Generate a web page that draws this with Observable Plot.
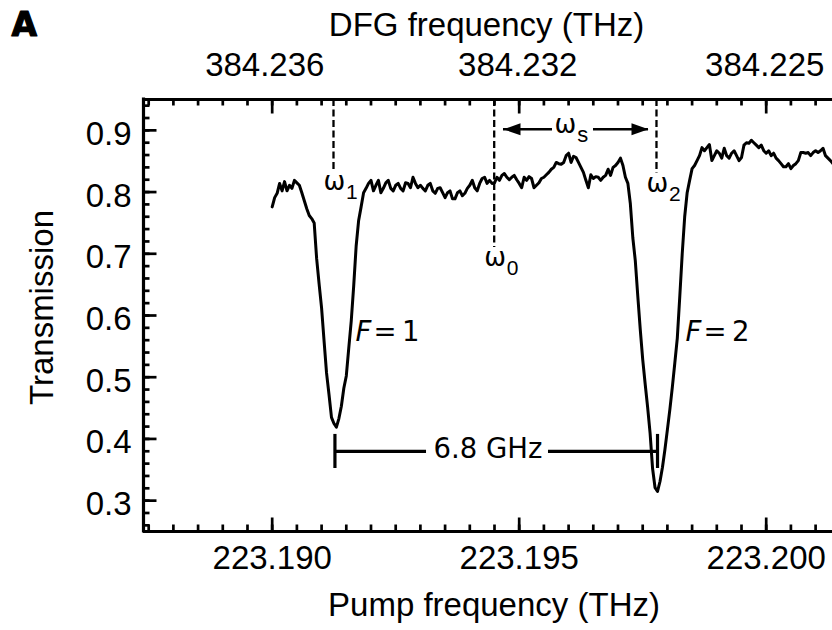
<!DOCTYPE html>
<html><head><meta charset="utf-8">
<script src="https://cdn.jsdelivr.net/npm/d3@7"></script>
<script src="https://cdn.jsdelivr.net/npm/@observablehq/plot@0.6"></script>
<style>body{margin:0;background:#fff}</style>
</head><body><div id="chart"></div>
<script>
// ---- data ----
const pumpStart = 223.19;   // THz, first sample
const pumpStep = 0.00005;   // THz between samples
const transmission = [
0.776,0.791,0.798,0.814,0.802,0.817,0.802,0.811,0.806,0.819,
0.815,0.811,0.799,0.786,0.773,0.762,0.757,0.750,0.692,0.651,
0.612,0.559,0.507,0.472,0.435,0.425,0.419,0.433,0.453,0.482,
0.502,0.547,0.591,0.648,0.713,0.754,0.776,0.799,0.806,0.814,
0.819,0.802,0.811,0.819,0.799,0.806,0.815,0.819,0.806,0.802,
0.811,0.814,0.806,0.802,0.815,0.814,0.807,0.824,0.814,0.807,
0.811,0.806,0.802,0.811,0.814,0.802,0.798,0.806,0.807,0.799,
0.791,0.799,0.802,0.789,0.789,0.799,0.802,0.794,0.798,0.806,
0.811,0.819,0.807,0.802,0.814,0.822,0.824,0.814,0.819,0.814,
0.815,0.824,0.819,0.827,0.830,0.824,0.820,0.824,0.827,0.820,
0.814,0.807,0.824,0.819,0.825,0.822,0.807,0.811,0.815,0.822,
0.824,0.828,0.832,0.837,0.840,0.848,0.846,0.845,0.848,0.859,
0.863,0.848,0.858,0.856,0.848,0.840,0.832,0.819,0.807,0.828,
0.822,0.825,0.824,0.819,0.824,0.827,0.837,0.827,0.840,0.843,
0.848,0.855,0.843,0.824,0.814,0.781,0.726,0.689,0.632,0.578,
0.529,0.489,0.451,0.409,0.352,0.321,0.315,0.331,0.354,0.383,
0.415,0.448,0.484,0.523,0.563,0.630,0.700,0.760,0.799,0.819,
0.838,0.843,0.851,0.859,0.872,0.867,0.872,0.877,0.851,0.859,
0.867,0.863,0.855,0.871,0.859,0.855,0.863,0.867,0.859,0.851,
0.856,0.876,0.880,0.879,0.884,0.880,0.876,0.872,0.876,0.867,
0.863,0.867,0.859,0.863,0.855,0.851,0.846,0.841,0.841,0.846,
0.838,0.843,0.846,0.851,0.864,0.864,0.863,0.864,0.859,0.864,
0.867,0.864,0.867,0.871,0.859,0.855,0.851,0.846
];
const pumpTicks = [223.190, 223.195, 223.200];
const pumpTickLabels = ["223.190", "223.195", "223.200"];
const dfgTickLabels = ["384.236", "384.232", "384.225"];
const dfgLabelPump = [223.18985, 223.19497, 223.19997];  // where the DFG labels sit on the pump scale
const transTicks = [0.3, 0.4, 0.5, 0.6, 0.7, 0.8, 0.9];
const xDomain = [223.187395, 223.201342];
const yDomain = [0.25, 0.95];

// annotations (data units)
const markerNames = ["1", "0", "2"];
const markerPump = [223.191241, 223.194494, 223.197779];
const markerBottom = [0.832, 0.710, 0.830];
const wsSegX1 = [223.194682, 223.196504];
const wsSegX2 = [223.195674, 223.197617];
const wsY = 0.9017;
const wsLabelX = 223.196137;
const barY = 0.3797;
const barSegX1 = [223.19127, 223.195593];
const barSegX2 = [223.193124, 223.19780];
const barCapX = [223.19127, 223.19780];
const barCapY = [0.3521, 0.4073];
const barLabelX = 223.194369;
const barLabelY = 0.3683;
const fLabelX = [223.191686, 223.198366];
const fLabelText = ["=\u20091", "=\u20092"];
const fLabelY = 0.559;

// ---- build ----
const data = transmission.map((t, i) => ({pump: pumpStart + i * pumpStep, t}));
const markers = markerNames.map((n, i) => ({name: n, pump: markerPump[i], bottom: markerBottom[i]}));
const wsSegs = wsSegX1.map((x1, i) => ({x1, x2: wsSegX2[i]}));
const barSegs = barSegX1.map((x1, i) => ({x1, x2: barSegX2[i]}));
const fLabels = fLabelX.map((x, i) => ({x, text: fLabelText[i]}));
const dfgLabels = dfgTickLabels.map((text, i) => ({text, pump: dfgLabelPump[i]}));

const xMinor = d3.range(0, 28).map(k => 223.1875 + k * 0.0005).filter(v => v > xDomain[0] && v < xDomain[1]);
const yMinor = d3.range(0, 35).map(k => 0.26 + k * 0.02).filter(v => v < 0.95);

const tickShape = {draw(ctx, l) { ctx.moveTo(0, 0); ctx.lineTo(0, -l); }};
const headShape = {draw(ctx) { ctx.moveTo(0, 0); ctx.lineTo(-17, -6); ctx.lineTo(-17, 6); ctx.closePath(); }};
const SANS = "Liberation Sans, Arial, Helvetica, sans-serif";
const VERD = "DejaVu Sans, Verdana, sans-serif";
const FS = 33;
const tk = {shape: tickShape, anchor: "start", strokeWidth: 2.7, strokeLinecap: "butt"};

const chart = Plot.plot({
  width: 832, height: 630,
  marginLeft: 143, marginRight: 0, marginTop: 99, marginBottom: 99,
  style: {fontFamily: SANS, fontSize: FS + "px", background: "white", color: "black"},
  x: {domain: xDomain, axis: null},
  y: {domain: yDomain, axis: null},
  marks: [
    // ticks (inside the frame)
    Plot.vector(xMinor, {...tk, x: d => d, y: () => yDomain[0], length: 7, rotate: 0}),
    Plot.vector(pumpTicks, {...tk, x: d => d, y: () => yDomain[0], length: 14, rotate: 0}),
    Plot.vector(xMinor, {...tk, x: d => d, y: () => yDomain[1], length: 6, rotate: 180}),
    Plot.vector(pumpTicks, {...tk, x: d => d, y: () => yDomain[1], length: 14, rotate: 180}),
    Plot.vector(yMinor, {...tk, y: d => d, x: () => xDomain[0], length: 6, rotate: 90}),
    Plot.vector(transTicks, {...tk, y: d => d, x: () => xDomain[0], length: 13, rotate: 90}),
    // frame (left, top, bottom)
    Plot.ruleX([xDomain[0]], {strokeWidth: 3.2, strokeLinecap: "square"}),
    Plot.ruleY(yDomain, {strokeWidth: 3.2}),
    // axes labels
    Plot.axisY({ticks: transTicks, tickSize: 0, tickPadding: 12, tickFormat: d3.format(".1f"), fontSize: FS, dy: 4, label: null}),
    Plot.axisX({anchor: "bottom", ticks: pumpTicks, tickSize: 0, tickPadding: 14.5, tickFormat: d => pumpTickLabels[pumpTicks.indexOf(d)], fontSize: FS, label: null}),
    Plot.text(dfgLabels, {x: "pump", text: "text", frameAnchor: "top", dy: -24, textAnchor: "middle", lineAnchor: "bottom", fontSize: FS}),
    // titles
    Plot.text(["Pump frequency (THz)"], {frameAnchor: "bottom", dx: 6, dy: 84, textAnchor: "middle", lineAnchor: "bottom", fontSize: FS}),
    Plot.text(["DFG frequency (THz)"], {frameAnchor: "top", dx: -1.5, dy: -64, textAnchor: "middle", lineAnchor: "bottom", fontSize: FS}),
    Plot.text(["Transmission"], {frameAnchor: "left", rotate: -90, dx: -91, dy: -8, textAnchor: "middle", lineAnchor: "bottom", fontSize: FS}),
    Plot.text(["A"], {frameAnchor: "top-left", dx: -132, dy: -64, textAnchor: "start", lineAnchor: "bottom", fontFamily: VERD, fontSize: 33, fontWeight: "bold", fill: "black", stroke: "black", strokeWidth: 1.2}),
    // dashed markers
    Plot.ruleX(markers, {x: "pump", y1: () => yDomain[1], y2: "bottom", strokeWidth: 2.3, strokeDasharray: "7,3.5"}),
    Plot.text(markers, {x: "pump", y: "bottom", text: () => "ω", dx: 1, dy: 18, textAnchor: "middle", lineAnchor: "bottom", fontFamily: VERD, fontSize: 26}),
    Plot.text(markers, {x: "pump", y: "bottom", text: "name", dx: 12.5, dy: 27, textAnchor: "start", lineAnchor: "bottom", fontSize: 21}),
    // omega_s arrow
    Plot.ruleY(wsSegs, {y: () => wsY, x1: "x1", x2: "x2", strokeWidth: 2.5}),
    Plot.dot([wsSegX1[0], wsSegX2[1]], {x: d => d, y: () => wsY, symbol: headShape, r: 5, fill: "black", stroke: "none", rotate: (d, i) => i === 0 ? 180 : 0}),
    Plot.text([wsLabelX], {x: d => d, y: () => wsY, text: () => "ω", dx: -10, dy: 4, textAnchor: "middle", lineAnchor: "bottom", fontFamily: VERD, fontSize: 26}),
    Plot.text([wsLabelX], {x: d => d, y: () => wsY, text: () => "s", dx: 2, dy: 13, textAnchor: "start", lineAnchor: "bottom", fontSize: 22}),
    // 6.8 GHz bar
    Plot.ruleY(barSegs, {y: () => barY, x1: "x1", x2: "x2", strokeWidth: 3.2}),
    Plot.ruleX(barCapX, {x: d => d, y1: () => barCapY[0], y2: () => barCapY[1], strokeWidth: 3.2}),
    Plot.text(["6.8 GHz"], {x: () => barLabelX, y: () => barLabelY, textAnchor: "middle", lineAnchor: "bottom", fontFamily: VERD, fontSize: 27.5}),
    // F labels
    Plot.text(fLabels, {x: "x", y: () => fLabelY, text: () => "F", textAnchor: "start", lineAnchor: "bottom", fontFamily: VERD, fontStyle: "italic", fontSize: 27.5}),
    Plot.text(fLabels, {x: "x", y: () => fLabelY, text: "text", dx: 18, textAnchor: "start", lineAnchor: "bottom", fontFamily: VERD, fontSize: 27.5}),
    // spectrum
    Plot.line(data, {x: "pump", y: "t", strokeWidth: 3, strokeLinejoin: "round", strokeLinecap: "round"})
  ]
});
document.getElementById("chart").append(chart);
</script>
</body></html>
